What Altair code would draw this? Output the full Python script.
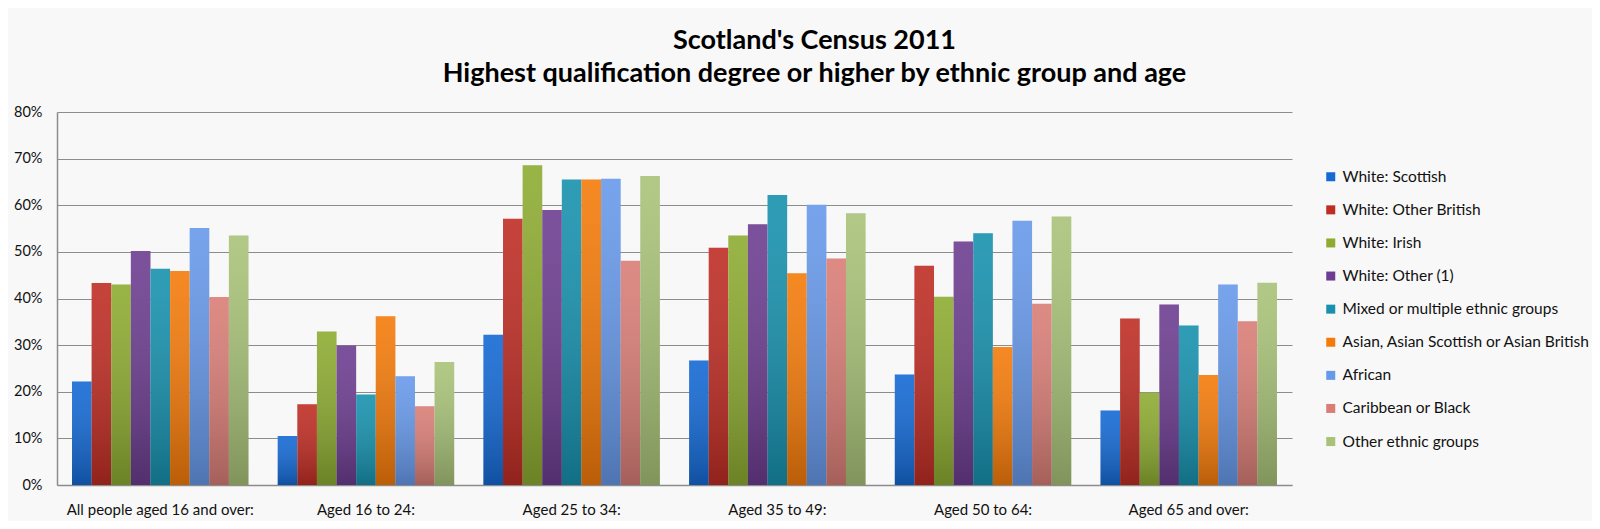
import altair as alt
import pandas as pd

GROUPS = [
    "All people aged 16 and over:",
    "Aged 16 to 24:",
    "Aged 25 to 34:",
    "Aged 35 to 49:",
    "Aged 50 to 64:",
    "Aged 65 and over:",
]
SERIES = [
    "White: Scottish",
    "White: Other British",
    "White: Irish",
    "White: Other (1)",
    "Mixed or multiple ethnic groups",
    "Asian, Asian Scottish or Asian British",
    "African",
    "Caribbean or Black",
    "Other ethnic groups",
]
COLORS = [
    "#1469d4",
    "#be2d24",
    "#8dab31",
    "#6c3d90",
    "#1791ae",
    "#f47b0a",
    "#6799ea",
    "#d97d76",
    "#a8c278",
]

# percent values per series, one per age group
white_scottish = [22.2, 10.5, 32.2, 26.7, 23.7, 16.0]
white_other_british = [43.3, 17.3, 57.1, 50.9, 47.0, 35.7]
white_irish = [43.0, 32.9, 68.6, 53.5, 40.4, 19.8]
white_other = [50.2, 29.9, 59.0, 55.9, 52.2, 38.7]
mixed = [46.4, 19.4, 65.5, 62.2, 54.0, 34.2]
asian = [45.9, 36.2, 65.5, 45.4, 29.6, 23.6]
african = [55.1, 23.3, 65.7, 60.1, 56.7, 43.0]
caribbean = [40.3, 16.9, 48.1, 48.6, 38.9, 35.1]
other_groups = [53.5, 26.4, 66.3, 58.3, 57.6, 43.4]

SERIES_VALUES = [
    white_scottish, white_other_british, white_irish, white_other,
    mixed, asian, african, caribbean, other_groups,
]

rows = []
for s, vals in zip(SERIES, SERIES_VALUES):
    for g, v in zip(GROUPS, vals):
        rows.append({"group": g, "series": s, "value": v / 100.0})
df = pd.DataFrame(rows)

FONT = "Lato"

x_enc = alt.X(
    "group:N",
    sort=GROUPS,
    scale=alt.Scale(domain=GROUPS, paddingInner=0.142, paddingOuter=0.073),
    axis=alt.Axis(
        title=None, labelAngle=0, ticks=False, labelPadding=17,
        labelFontSize=15, labelColor="#111111", labelFont=FONT,
        labelLimit=400, labelOverlap=False,
        domainColor="#8c8c8c", domainWidth=1.5,
    ),
)
xoff_enc = alt.XOffset(
    "series:N",
    sort=SERIES,
    scale=alt.Scale(domain=SERIES, paddingInner=0, paddingOuter=0),
)
y_enc = alt.Y(
    "value:Q",
    scale=alt.Scale(domain=[0, 0.8], nice=False),
    axis=alt.Axis(
        title=None, format=".0%", values=[0, 0.1, 0.2, 0.3, 0.4, 0.5, 0.6, 0.7, 0.8],
        ticks=False, labelPadding=15, labelFontSize=14.5, labelColor="#111111",
        labelFont=FONT, gridColor="#8c8c8c", gridWidth=1.2,
        domainColor="#8c8c8c", domainWidth=1.5,
    ),
)

base = alt.Chart(df).mark_bar().encode(
    x=x_enc,
    xOffset=xoff_enc,
    y=y_enc,
    color=alt.Color(
        "series:N",
        sort=SERIES,
        scale=alt.Scale(domain=SERIES, range=COLORS),
        legend=alt.Legend(
            title=None, orient="none", legendX=1266, legendY=57,
            symbolType="square", symbolSize=81, symbolStrokeWidth=0,
            labelFontSize=15.5, labelFont=FONT, labelColor="#111111",
            rowPadding=16.1, labelOffset=4, labelLimit=400,
        ),
    ),
)

shade = alt.Chart(df).mark_bar(
    color=alt.Gradient(
        gradient="linear",
        stops=[
            alt.GradientStop(color="rgba(255,255,255,0.10)", offset=0),
            alt.GradientStop(color="rgba(0,0,0,0.24)", offset=1),
        ],
        x1=0, x2=0, y1=0, y2=1,
    )
).encode(x=x_enc, xOffset=xoff_enc, y=y_enc)

chart = alt.layer(base, shade).properties(
    width=1235,
    height=373,
    autosize=alt.AutoSizeParams(type="none"),
    padding={"left": 49, "top": 104, "right": 300, "bottom": 36},
    background="#f8f8f8",
    title=alt.TitleParams(
        text=["Scotland's Census 2011",
              "Highest qualification degree or higher by ethnic group and age"],
        anchor="middle", frame="group", dx=140, offset=16,
        fontSize=27, fontWeight="bold", font=FONT, color="#000000",
        lineHeight=33,
    ),
).configure_view(stroke=None)

chart.save("out.html", embed_options={"renderer": "svg", "actions": False})
